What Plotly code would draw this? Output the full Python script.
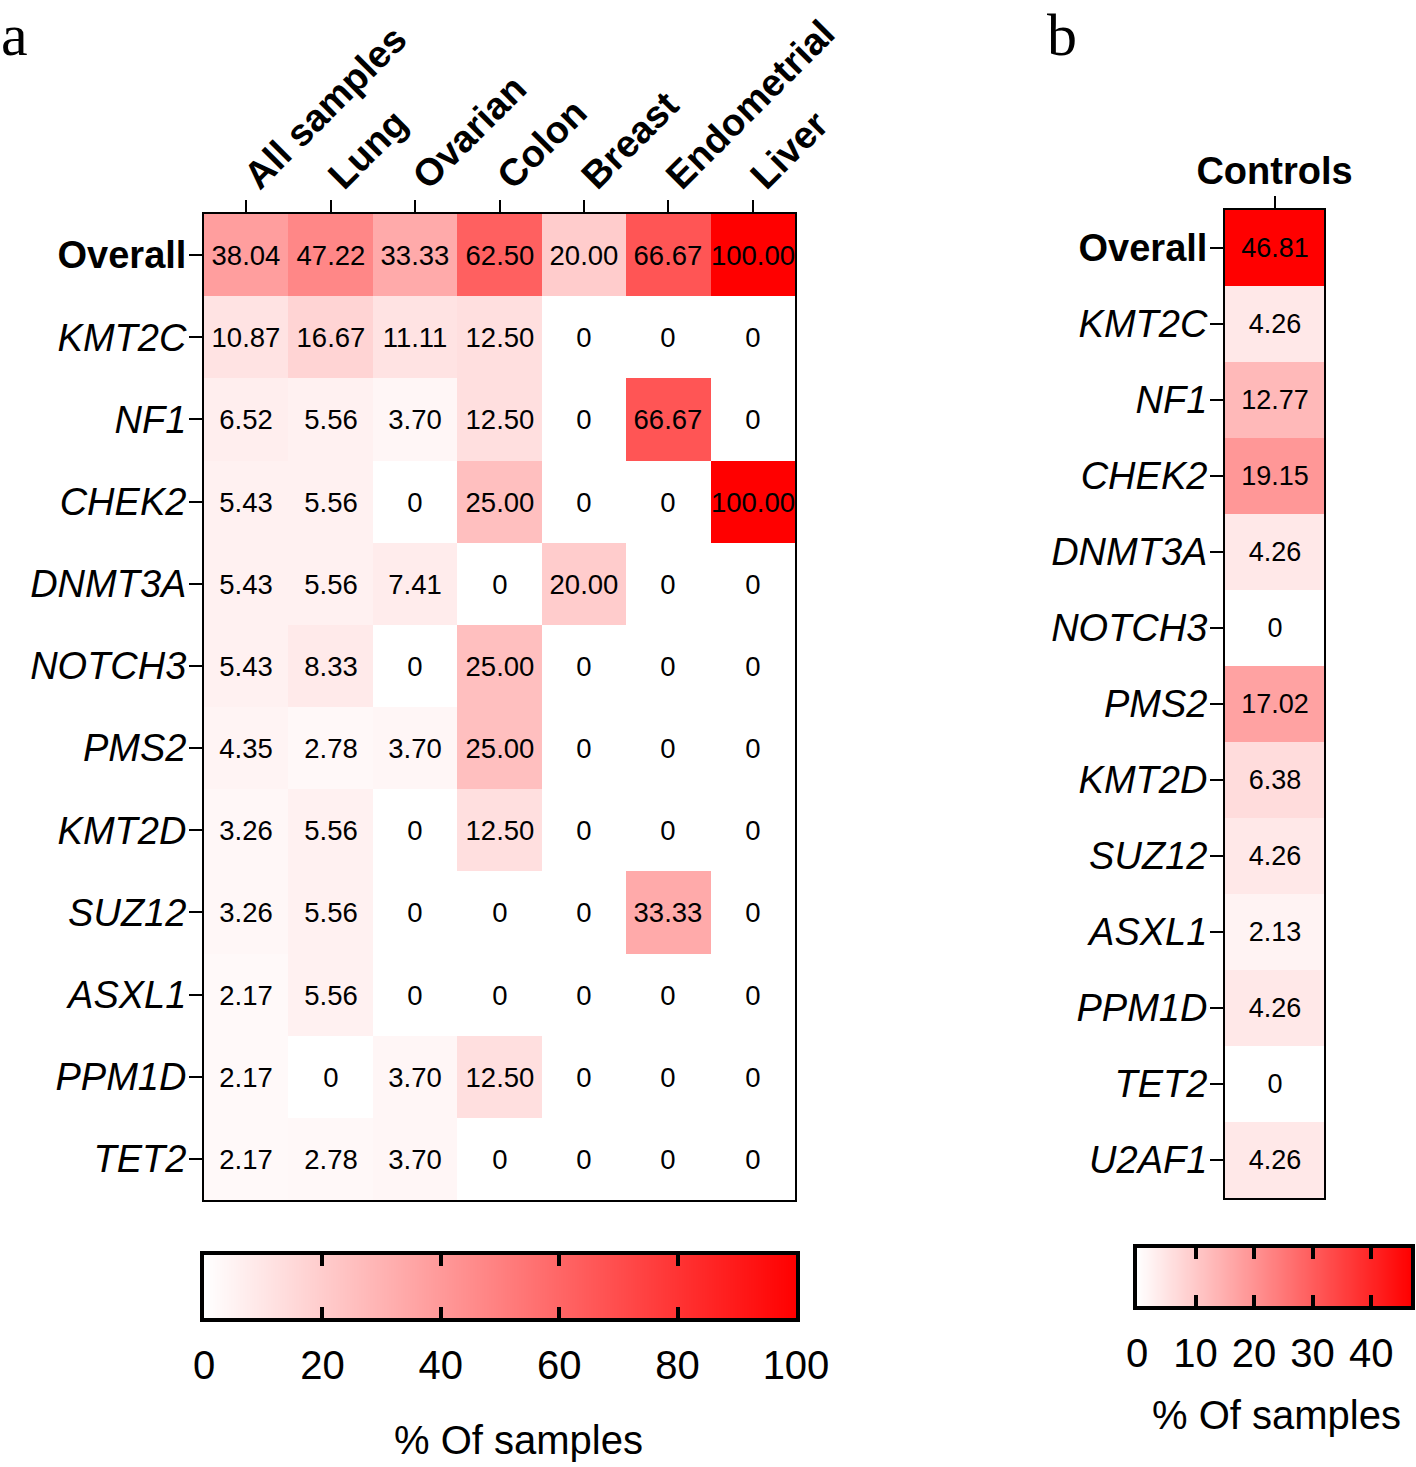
import plotly.graph_objects as go

W, H = 1416, 1467

# ---------------- data ----------------
cols_a = ["All samples", "Lung", "Ovarian", "Colon", "Breast", "Endometrial", "Liver"]
rows_a = ["Overall", "KMT2C", "NF1", "CHEK2", "DNMT3A", "NOTCH3", "PMS2",
          "KMT2D", "SUZ12", "ASXL1", "PPM1D", "TET2"]
all_samples = [38.04, 10.87, 6.52, 5.43, 5.43, 5.43, 4.35, 3.26, 3.26, 2.17, 2.17, 2.17]
lung = [47.22, 16.67, 5.56, 5.56, 5.56, 8.33, 2.78, 5.56, 5.56, 5.56, 0, 2.78]
ovarian = [33.33, 11.11, 3.70, 0, 7.41, 0, 3.70, 0, 0, 0, 3.70, 3.70]
colon = [62.50, 12.50, 12.50, 25.00, 0, 25.00, 25.00, 12.50, 0, 0, 12.50, 0]
breast = [20.00, 0, 0, 0, 20.00, 0, 0, 0, 0, 0, 0, 0]
endometrial = [66.67, 0, 66.67, 0, 0, 0, 0, 0, 33.33, 0, 0, 0]
liver = [100.00, 0, 0, 100.00, 0, 0, 0, 0, 0, 0, 0, 0]

cols_b = ["Controls"]
rows_b = ["Overall", "KMT2C", "NF1", "CHEK2", "DNMT3A", "NOTCH3", "PMS2",
          "KMT2D", "SUZ12", "ASXL1", "PPM1D", "TET2", "U2AF1"]
controls = [46.81, 4.26, 12.77, 19.15, 4.26, 0, 17.02, 6.38, 4.26, 2.13, 4.26, 0, 4.26]

scale_a_max = 100
scale_b_max = 46.81
ticks_a = [0, 20, 40, 60, 80, 100]
ticks_b = [0, 10, 20, 30, 40]

# ---------------- helpers ----------------
def px(x):
    return x / W

def py(y):
    return 1 - y / H

def fmt(v):
    return "0" if v == 0 else f"{v:.2f}"

def row_label(r):
    return f"<b>{r}</b>" if r == "Overall" else f"<i>{r}</i>"

FONT = "Liberation Sans, Arial, sans-serif"
SERIF = "Liberation Serif, Times New Roman, serif"
RED = [[0, "#FFFFFF"], [1, "#FF0000"]]

series_a = [all_samples, lung, ovarian, colon, breast, endometrial, liver]
z_a = [[s[i] for s in series_a] for i in range(len(rows_a))]
t_a = [[fmt(v) for v in row] for row in z_a]
z_b = [[v] for v in controls]
t_b = [[fmt(v)] for v in controls]

fig = go.Figure()

fig.add_trace(go.Heatmap(
    z=z_a, x=cols_a, y=rows_a, text=t_a, texttemplate="%{text}",
    textfont=dict(size=27.5, color="black", family=FONT),
    colorscale=RED, zmin=0, zmax=scale_a_max, showscale=False,
    xaxis="x", yaxis="y"))

fig.add_trace(go.Heatmap(
    z=z_b, x=cols_b, y=rows_b, text=t_b, texttemplate="%{text}",
    textfont=dict(size=27, color="black", family=FONT),
    colorscale=RED, zmin=0, zmax=scale_b_max, showscale=False,
    xaxis="x2", yaxis="y2"))

# gradient bars (colour keys) drawn with the same colour scales
fig.add_trace(go.Heatmap(
    z=[[0, scale_a_max]], x=[0, scale_a_max], y=[0], zsmooth="best",
    colorscale=RED, zmin=0, zmax=scale_a_max, showscale=False,
    hoverinfo="skip", xaxis="x3", yaxis="y3"))
fig.add_trace(go.Heatmap(
    z=[[0, scale_b_max]], x=[0, scale_b_max], y=[0], zsmooth="best",
    colorscale=RED, zmin=0, zmax=scale_b_max, showscale=False,
    hoverinfo="skip", xaxis="x4", yaxis="y4"))

heat_x = dict(side="top", ticks="outside", ticklen=12, tickwidth=2, tickcolor="black",
              showline=True, linewidth=2, linecolor="black", mirror=True,
              tickfont=dict(family=FONT, size=38, color="black", weight="bold"),
              showgrid=False, zeroline=False, automargin=False)
heat_y = dict(ticks="outside", ticklen=13, tickwidth=2, tickcolor="black",
              showline=True, linewidth=2, linecolor="black", mirror=True,
              tickfont=dict(family=FONT, size=38, color="black"),
              autorange="reversed", showgrid=False, zeroline=False, automargin=False,
              ticklabelstandoff=-5)

bar_x = dict(ticks="inside", ticklen=11, tickwidth=4, tickcolor="black",
             showline=True, linewidth=4, linecolor="black", mirror="allticks",
             tickfont=dict(family=FONT, size=40, color="black"),
             showgrid=False, zeroline=False, ticklabelstandoff=9, automargin=False)
bar_y = dict(showline=True, linewidth=4, linecolor="black", mirror=True,
             showticklabels=False, ticks="", range=[-0.5, 0.5],
             showgrid=False, zeroline=False, automargin=False)

fig.update_layout(
    width=W, height=H, margin=dict(l=0, r=0, t=0, b=0, autoexpand=False),
    paper_bgcolor="white", plot_bgcolor="white", showlegend=False,
    xaxis=dict(heat_x, domain=[px(204), px(795)], anchor="y", tickangle=-45,
               ticklabelstandoff=-12),
    yaxis=dict(heat_y, domain=[py(1200), py(214)], anchor="x",
               tickmode="array", tickvals=rows_a, ticktext=[row_label(r) for r in rows_a]),
    xaxis2=dict(heat_x, domain=[px(1225), px(1324)], anchor="y2", tickangle=0,
                ticklabelstandoff=-3),
    yaxis2=dict(heat_y, domain=[py(1198), py(210)], anchor="x2",
                tickmode="array", tickvals=rows_b, ticktext=[row_label(r) for r in rows_b]),
    xaxis3=dict(bar_x, domain=[px(204), px(796)], anchor="y3",
                range=[0, scale_a_max], tickvals=ticks_a),
    yaxis3=dict(bar_y, domain=[py(1318), py(1255)], anchor="x3"),
    xaxis4=dict(bar_x, domain=[px(1137), px(1411)], anchor="y4",
                range=[0, scale_b_max], tickvals=ticks_b),
    yaxis4=dict(bar_y, domain=[py(1306), py(1248)], anchor="x4"),
    annotations=[
        dict(text="a", x=px(-1), y=py(0), xref="paper", yref="paper",
             xanchor="left", yanchor="top", showarrow=False,
             font=dict(family=SERIF, size=60, color="black")),
        dict(text="b", x=px(1045), y=py(0), xref="paper", yref="paper",
             xanchor="left", yanchor="top", showarrow=False,
             font=dict(family=SERIF, size=60, color="black")),
        dict(text="% Of samples", x=px(518), y=py(1440), xref="paper", yref="paper",
             xanchor="center", yanchor="middle", showarrow=False,
             font=dict(family=FONT, size=40, color="black")),
        dict(text="% Of samples", x=px(1276), y=py(1415), xref="paper", yref="paper",
             xanchor="center", yanchor="middle", showarrow=False,
             font=dict(family=FONT, size=40, color="black")),
    ],
)

fig.write_html("out.html", config={"displayModeBar": False},
               post_script="document.body.style.margin='0px';document.body.style.overflow='hidden';")
